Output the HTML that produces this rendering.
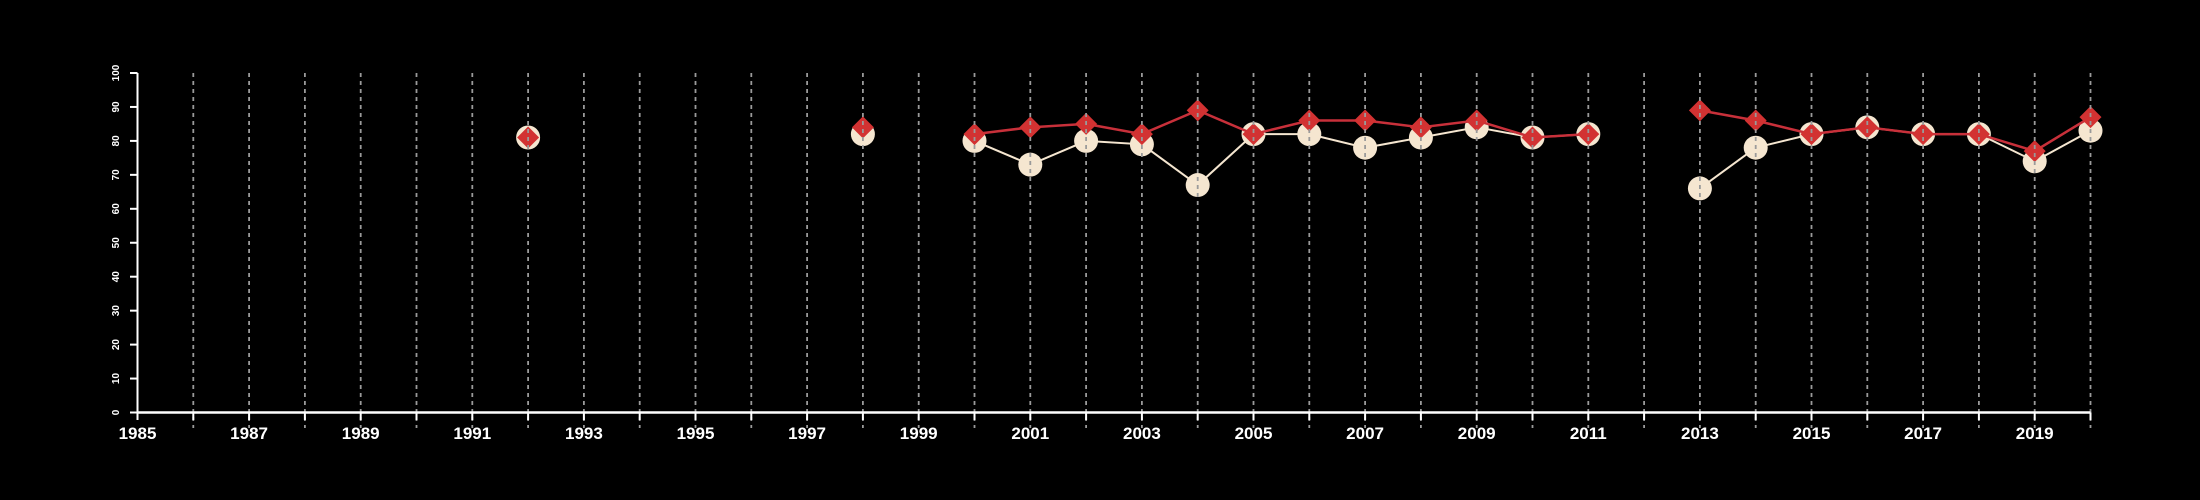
<!DOCTYPE html>
<html><head><meta charset="utf-8"><style>
html,body{margin:0;padding:0;background:#000;}
svg{display:block;}
text{font-family:"Liberation Sans Narrow","Liberation Sans",sans-serif;fill:#fff;font-weight:bold;}
</style></head><body>
<svg id="chart" width="2200" height="500" xmlns="http://www.w3.org/2000/svg">
<rect width="2200" height="500" fill="#000"/>
<g id="series"></g>
<g id="grid"></g>
<g id="axes"></g>
</svg>
<script>
const years = [1992,1998,2000,2001,2002,2003,2004,2005,2006,2007,2008,2009,2010,2011,2012,2013,2014,2015,2016,2017,2018,2019,2020];
const seriesA = [81,82,80,73,80,79,67,82,82,78,81,84,81,82,null,66,78,82,84,82,82,74,83];
const seriesB = [81,84,82,84,85,82,89,82,86,86,84,86,81,82,null,89,86,82,84,82,82,77,87];
const yTicks = [0,10,20,30,40,50,60,70,80,90,100];
const xLabels = [1985,1987,1989,1991,1993,1995,1997,1999,2001,2003,2005,2007,2009,2011,2013,2015,2017,2019];

const NS='http://www.w3.org/2000/svg';
const x0=137.5, x1=2090.5, yr0=1985, yr1=2020, yb=412.5, yt=73;
const xs=v=>x0+(v-yr0)*(x1-x0)/(yr1-yr0);
const ys=v=>yb-(v)*(yb-yt)/100;
function mk(tag,attrs,parent){const e=document.createElementNS(NS,tag);for(const k in attrs)e.setAttribute(k,attrs[k]);parent.appendChild(e);return e;}
const gS=document.getElementById('series'),gG=document.getElementById('grid'),gA=document.getElementById('axes');

function segs(vals){const out=[];let cur=[];for(let i=0;i<years.length;i++){const v=vals[i];if(v==null||(i>0&&years[i]-years[i-1]>1&&cur.length)){if(cur.length)out.push(cur);cur=[];}if(v!=null)cur.push([xs(years[i]),ys(v)]);}if(cur.length)out.push(cur);return out;}
function drawLines(vals,color,w,name){segs(vals).forEach(s=>{if(s.length<2)return;const p=mk('polyline',{points:s.map(q=>q.join(',')).join(' '),fill:'none',stroke:color,'stroke-width':w},gS);

});}
drawLines(seriesA,'#f5e6d0',2,'series-a-line');
years.forEach((y,i)=>{if(seriesA[i]==null)return;const c=mk('circle',{cx:xs(y),cy:ys(seriesA[i]),r:12,fill:'#f5e6d0'},gS);

});
drawLines(seriesB,'#c8303a',2.5,'series-b-line');
years.forEach((y,i)=>{if(seriesB[i]==null)return;const cx=xs(y),cy=ys(seriesB[i]),h=11;const d=mk('polygon',{points:`${cx},${cy-h} ${cx+h},${cy} ${cx},${cy+h} ${cx-h},${cy}`,fill:'#d23232'},gS);

});

for(let y=1986;y<=2020;y++){const l=mk('line',{x1:xs(y),x2:xs(y),y1:yt,y2:428,stroke:'#9a9a9a','stroke-width':1.8,'stroke-dasharray':'4,4'},gG);

}

const xa=mk('line',{x1:x0,x2:x1,y1:yb,y2:yb,stroke:'#fff','stroke-width':2.5},gA);


for(let y=1985;y<=2020;y++){const t=mk('line',{x1:xs(y),x2:xs(y),y1:yb,y2:420,stroke:'#fff','stroke-width':2},gA);

}
xLabels.forEach(y=>{const t=mk('text',{x:xs(y),y:439,'text-anchor':'middle','font-size':17},gA);t.textContent=y;

});
const ya=mk('line',{x1:x0,x2:x0,y1:yt,y2:yb,stroke:'#fff','stroke-width':2},gA);


yTicks.forEach(v=>{const t=mk('line',{x1:130,x2:x0,y1:ys(v),y2:ys(v),stroke:'#fff','stroke-width':2},gA);


const tx=mk('text',{x:0,y:0,'text-anchor':'middle','font-size':10,transform:`translate(119,${ys(v)}) rotate(-90)`},gA);tx.textContent=v;

});
</script>
</body></html>
